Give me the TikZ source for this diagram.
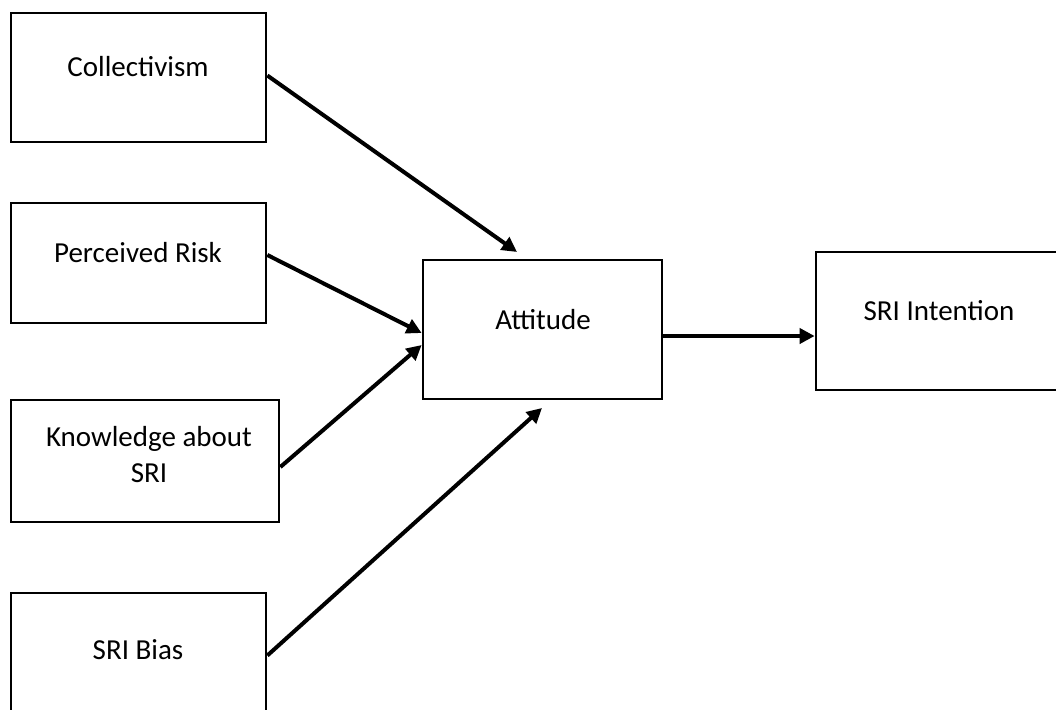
\documentclass[tikz,border=0pt]{standalone}
\usepackage{fontspec}
\setmainfont{Carlito}
\usetikzlibrary{arrows.meta}

\tikzset{
	box/.style = {draw, line width = 1.35pt, inner sep = 0pt},
	lbl/.style = {font = \fontsize{14.5pt}{18pt}\selectfont, align = center, inner sep = 0pt},
	link/.style = {-{Triangle[length=7.5pt,width=7.5pt]}, line width = 2pt}
}

\begin{document}
\begin{tikzpicture}[x = 0.5pt, y = -0.5pt]
	\useasboundingbox (0,0) rectangle (1056,709);
	\clip (0,0) rectangle (1056,709);
	
	\node [box, minimum width = 127.5pt, minimum height = 64.5pt] (coll) at (138.5,77.5) {};
	\node [lbl] (collT) at (138,67) {Collectivism};
	\node [box, minimum width = 127.5pt, minimum height = 60pt] (risk) at (138.5,263) {};
	\node [lbl] (riskT) at (138,253) {Perceived Risk};
	\node [box, minimum width = 134pt, minimum height = 61pt] (know) at (145,461) {};
	\node [lbl] (knowT) at (149,455) {Knowledge about\\SRI};
	\node [box, minimum width = 127.5pt, minimum height = 68.5pt] (bias) at (138.5,661.5) {};
	\node [lbl] (biasT) at (138,650) {SRI Bias};
	
	\node [box, minimum width = 119.5pt, minimum height = 69.5pt] (att) at (542.5,329.5) {};
	\node [lbl] (attT) at (543,320) {Attitude};
	\node [box, minimum width = 130pt, minimum height = 69pt] (intent) at (946,321) {};
	\node [lbl] (intentT) at (939,311) {SRI Intention};
	
	\coordinate (toTop) at (517,252);
	\coordinate (toBot) at (542,408);
	
	\draw [link] ([yshift=1pt]coll.east) -- (toTop);
	\draw [link] ([yshift=4pt]risk.east) -- ([yshift=-1.75pt]att.west);
	\draw [link] ([yshift=-3pt]know.east) -- ([yshift=-7.75pt]att.west);
	\draw [link] ([yshift=3pt]bias.east) -- (toBot);
	\draw [link] ([yshift=-3.25pt]att.east) -- ([yshift=-7.5pt]intent.west);
	
\end{tikzpicture}
\end{document}
